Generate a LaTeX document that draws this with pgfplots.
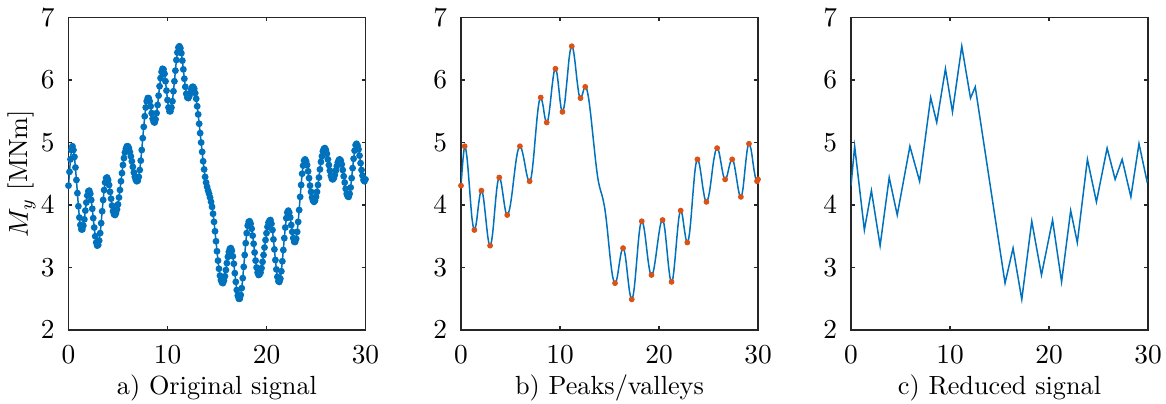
\documentclass[border=0pt]{standalone}
\usepackage{pgfplots}
\usepackage{pgfplotstable}
\pgfplotsset{compat=1.18}
\definecolor{mblue}{RGB}{0,114,189}
\definecolor{morange}{RGB}{217,83,25}
\definecolor{axgray}{RGB}{38,38,38}

% original signal, sampled every 0.1
\pgfplotstableread{
x y
0.0 4.31
0.1 4.53
0.2 4.73
0.3 4.88
0.4 4.94
0.5 4.88
0.6 4.77
0.7 4.60
0.8 4.40
0.9 4.19
1.0 3.98
1.1 3.80
1.2 3.68
1.3 3.61
1.4 3.61
1.5 3.67
1.6 3.77
1.7 3.91
1.8 4.04
1.9 4.15
2.0 4.22
2.1 4.23
2.2 4.18
2.3 4.08
2.4 3.94
2.5 3.79
2.6 3.64
2.7 3.50
2.8 3.40
2.9 3.35
3.0 3.36
3.1 3.43
3.2 3.55
3.3 3.71
3.4 3.90
3.5 4.08
3.6 4.24
3.7 4.36
3.8 4.43
3.9 4.44
4.0 4.40
4.1 4.32
4.2 4.21
4.3 4.10
4.4 3.99
4.5 3.90
4.6 3.85
4.7 3.84
4.8 3.87
4.9 3.93
5.0 4.01
5.1 4.12
5.2 4.24
5.3 4.38
5.4 4.51
5.5 4.64
5.6 4.75
5.7 4.84
5.8 4.90
5.9 4.94
6.0 4.94
6.1 4.91
6.2 4.85
6.3 4.78
6.4 4.70
6.5 4.61
6.6 4.52
6.7 4.45
6.8 4.40
6.9 4.38
7.0 4.39
7.1 4.45
7.2 4.56
7.3 4.71
7.4 4.88
7.5 5.07
7.6 5.25
7.7 5.42
7.8 5.56
7.9 5.66
8.0 5.71
8.1 5.71
8.2 5.66
8.3 5.58
8.4 5.47
8.5 5.38
8.6 5.33
8.7 5.32
8.8 5.37
8.9 5.47
9.0 5.60
9.1 5.75
9.2 5.90
9.3 6.03
9.4 6.13
9.5 6.18
9.6 6.17
9.7 6.10
9.8 5.98
9.9 5.83
10.0 5.68
10.1 5.56
10.2 5.50
10.3 5.50
10.4 5.56
10.5 5.66
10.6 5.82
10.7 5.98
10.8 6.15
10.9 6.32
11.0 6.44
11.1 6.52
11.2 6.54
11.3 6.51
11.4 6.43
11.5 6.31
11.6 6.17
11.7 6.02
11.8 5.89
11.9 5.78
12.0 5.72
12.1 5.71
12.2 5.74
12.3 5.79
12.4 5.85
12.5 5.89
12.6 5.89
12.7 5.86
12.8 5.79
12.9 5.70
13.0 5.58
13.1 5.45
13.2 5.30
13.3 5.15
13.4 5.00
13.5 4.85
13.6 4.70
13.7 4.57
13.8 4.45
13.9 4.36
14.0 4.29
14.1 4.23
14.2 4.18
14.3 4.12
14.4 4.05
14.5 3.97
14.6 3.86
14.7 3.73
14.8 3.58
14.9 3.42
15.0 3.26
15.1 3.11
15.2 2.98
15.3 2.87
15.4 2.80
15.5 2.76
15.6 2.75
15.7 2.79
15.8 2.86
15.9 2.96
16.0 3.07
16.1 3.17
16.2 3.25
16.3 3.30
16.4 3.31
16.5 3.27
16.6 3.18
16.7 3.06
16.8 2.91
16.9 2.77
17.0 2.64
17.1 2.55
17.2 2.50
17.3 2.50
17.4 2.56
17.5 2.67
17.6 2.83
17.7 3.01
17.8 3.20
17.9 3.39
18.0 3.55
18.1 3.67
18.2 3.73
18.3 3.74
18.4 3.70
18.5 3.62
18.6 3.51
18.7 3.38
18.8 3.24
18.9 3.11
19.0 3.00
19.1 2.92
19.2 2.88
19.3 2.89
19.4 2.92
19.5 2.99
19.6 3.09
19.7 3.20
19.8 3.32
19.9 3.44
20.0 3.55
20.1 3.65
20.2 3.72
20.3 3.75
20.4 3.76
20.5 3.70
20.6 3.60
20.7 3.45
20.8 3.29
20.9 3.12
21.0 2.97
21.1 2.85
21.2 2.78
21.3 2.77
21.4 2.82
21.5 2.94
21.6 3.10
21.7 3.28
21.8 3.47
21.9 3.64
22.0 3.79
22.1 3.88
22.2 3.91
22.3 3.88
22.4 3.80
22.5 3.68
22.6 3.57
22.7 3.47
22.8 3.41
22.9 3.41
23.0 3.46
23.1 3.57
23.2 3.73
23.3 3.92
23.4 4.13
23.5 4.32
23.6 4.50
23.7 4.63
23.8 4.71
23.9 4.73
24.0 4.70
24.1 4.64
24.2 4.54
24.3 4.43
24.4 4.31
24.5 4.21
24.6 4.12
24.7 4.07
24.8 4.05
24.9 4.07
25.0 4.13
25.1 4.21
25.2 4.32
25.3 4.44
25.4 4.57
25.5 4.69
25.6 4.78
25.7 4.86
25.8 4.90
25.9 4.91
26.0 4.88
26.1 4.82
26.2 4.73
26.3 4.64
26.4 4.55
26.5 4.47
26.6 4.42
26.7 4.41
26.8 4.43
26.9 4.48
27.0 4.55
27.1 4.62
27.2 4.68
27.3 4.72
27.4 4.73
27.5 4.71
27.6 4.65
27.7 4.56
27.8 4.46
27.9 4.36
28.0 4.26
28.1 4.18
28.2 4.14
28.3 4.13
28.4 4.18
28.5 4.28
28.6 4.43
28.7 4.59
28.8 4.74
28.9 4.87
29.0 4.96
29.1 4.98
29.2 4.95
29.3 4.89
29.4 4.79
29.5 4.67
29.6 4.56
29.7 4.47
29.8 4.40
29.9 4.38
30.0 4.41
}\sig

% peaks and valleys
\pgfplotstableread{
x y
0 4.31
0.37 4.94
1.35 3.60
2.06 4.23
2.94 3.35
3.86 4.44
4.67 3.84
5.95 4.94
6.93 4.38
8.05 5.72
8.66 5.32
9.54 6.18
10.25 5.49
11.19 6.54
12.07 5.71
12.55 5.89
15.56 2.75
16.37 3.31
17.25 2.49
18.26 3.74
19.24 2.88
20.36 3.76
21.27 2.77
22.19 3.91
22.86 3.40
23.88 4.73
24.79 4.05
25.87 4.91
26.68 4.41
27.39 4.73
28.27 4.13
29.09 4.98
29.9 4.38
30 4.41
}\pv

\pgfplotsset{
  panel/.style={
    scale only axis,
    width=118.8pt, height=125pt,
    xmin=0, xmax=30, ymin=2, ymax=7,
    xtick={0,10,20,30}, ytick={2,3,4,5,6,7},
    tick align=inside,
    major tick length=1.5pt,
    axis line style={draw=axgray, line width=0.6pt},
    tick style={draw=axgray, line width=0.5pt},
    xticklabel style={yshift=-3pt},
    yticklabel style={xshift=-2pt},
    x label style={at={(axis description cs:0.5,-0.186)}, anchor=center},
    y label style={at={(axis description cs:-0.157,0.5)}, anchor=center, rotate=0},
  },
}

\begin{document}
\begin{tikzpicture}[font=\fontsize{10.5}{12.6}\selectfont]
\path[use as bounding box] (-27.4pt,-29.2pt) rectangle (439pt,132pt);

\begin{axis}[panel, at={(0pt,0pt)}, anchor=south west,
  xlabel={a) Original signal}, ylabel={$M_y$ [MNm]}]
\addplot[mblue, line width=0.6pt, mark=*, mark size=1.05pt,
  mark options={fill=mblue, draw=mblue}] table {\sig};
\end{axis}

\begin{axis}[panel, at={(157pt,0pt)}, anchor=south west,
  xlabel={b) Peaks/valleys}]
\addplot[mblue, line width=0.6pt, no marks] table {\sig};
\addplot[only marks, mark=*, mark size=0.95pt,
  mark options={fill=morange, draw=morange}] table {\pv};
\end{axis}

\begin{axis}[panel, at={(313pt,0pt)}, anchor=south west,
  xlabel={c) Reduced signal}]
\addplot[mblue, line width=0.6pt, no marks] table {\pv};
\end{axis}
\end{tikzpicture}
\end{document}
